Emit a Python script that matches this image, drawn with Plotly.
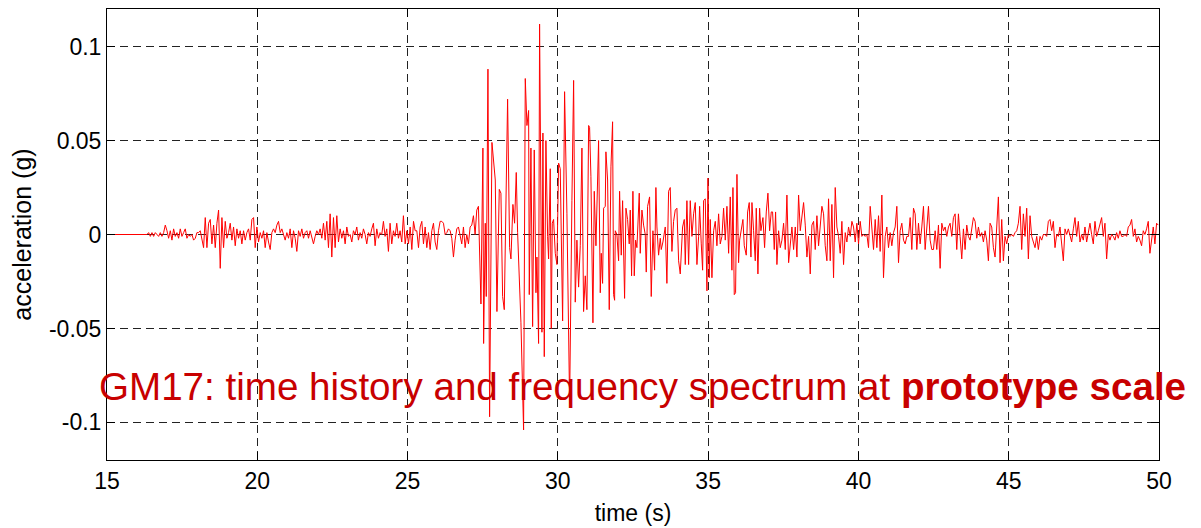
import plotly.graph_objects as go

# ---------------- data (acceleration in milli-g) ----------------
dt = 0.0554  # sampling step of the uniformly sampled segments (s)

lead_t = [15.0]
lead_mg = [0]

seg1_t0 = 16.33
seg1_mg = [0, 1, -1, 1, -1, 1, 0, -1, 1, -1, 1,
           5, 2, -2, 2, -3, 3, -1, 1, -2, 3, -1, 1, 3, -2, 0, -1, 0, -3, -2, 1,
           1, 2, -2, -7, 9, -7, 6, 8, -5, 5, -7, 6, 13, -18, 9, -7, 7, -2, 1, 6,
           -3, 4, -6, 3, -2, 2, -5, 2, -3, 1, 3, -3, 8, 9, -7, 4, -4, 1, -2, 2,
           -7, 1, -4, -8, 1, 3, 1, 5, 7, 1, 3, 0, -3, 1, -2, 3, -7, 2, -2, -9,
           2, -1, 3, -2, 1, 2, -2, 2, -1, -5, -1, 2, 0, 3, -2, 6, -3, 7, -7, 11,
           -12, 9, -7, 10, -4, 3, -2, 2, -5, 4, -1, 0, -4, 2, 0, 4, -3, 1, -2, 3,
           0, -5, 1, -1, 3, 6, -6, 3, -2, 1, 0, 7, -1, 3, -9, 6, -5, 2, -1, 6,
           -2, 2, -4, 10]

seg2_t0 = 24.92
seg2_mg = [-5, 2, -5, 4, -8, 7, 2, 2, -7, 4, 7, -5, 4, -7, 1, -8, 2, 6, -4, -8,
           2, 7, 7, 6, 0, 1, 3, 2, -2, -12, -3, 3, 4, -1, -5, 4, -7, 0, -5, 4,
           5, 10, 0, 13, 15]

strong_t = [27.441, 27.507, 27.530, 27.585, 27.618, 27.674, 27.729, 27.807, 27.918, 27.973,
            28.051, 28.106, 28.162, 28.217, 28.328, 28.395, 28.439, 28.505, 28.561, 28.616,
            28.661, 28.727, 28.772, 28.860, 28.916, 28.971, 29.027, 29.049, 29.104, 29.160,
            29.215, 29.271, 29.304, 29.359, 29.392,
            29.470, 29.503, 29.548, 29.603, 29.659, 29.692, 29.747, 29.781, 29.814, 29.858,
            29.914, 29.969, 30.025, 30.080, 30.158, 30.224, 30.302, 30.391, 30.468, 30.524,
            30.579, 30.634, 30.690, 30.745, 30.801, 30.856, 30.912, 30.967, 31.023, 31.056,
            31.100, 31.167, 31.211, 31.267,
            31.355, 31.411, 31.444, 31.488, 31.522, 31.577, 31.599, 31.655, 31.710, 31.766,
            31.821, 31.854, 31.888, 31.910, 31.965,
            32.021, 32.054, 32.109, 32.154, 32.220, 32.265, 32.320, 32.375, 32.409, 32.453,
            32.497, 32.542, 32.586, 32.630, 32.675, 32.708, 32.741, 32.797, 32.852, 32.908,
            32.941, 32.985,
            33.052, 33.107, 33.163, 33.218, 33.262, 33.296, 33.351, 33.407, 33.440, 33.495,
            33.573, 33.628, 33.684, 33.739, 33.795, 33.850, 33.906, 33.961,
            34.017, 34.072,
            34.150, 34.206, 34.239, 34.294, 34.350, 34.405, 34.461, 34.516, 34.572, 34.627,
            34.683, 34.716, 34.771, 34.816, 34.849, 34.904, 34.960, 34.993,
            35.037, 35.071, 35.126, 35.182, 35.237, 35.292, 35.348, 35.403, 35.459, 35.514,
            35.570, 35.625, 35.681, 35.736, 35.791, 35.825, 35.869, 35.913, 35.958,
            36.013, 36.047, 36.102, 36.157, 36.202, 36.268, 36.313, 36.368, 36.424, 36.457,
            36.512, 36.568, 36.601, 36.656, 36.712, 36.756, 36.823, 36.878, 36.934, 36.989,
            37.045, 37.100, 37.144, 37.200, 37.244, 37.288, 37.344, 37.399, 37.455, 37.510,
            37.566, 37.621, 37.677, 37.732, 37.787, 37.843, 37.898, 37.954,
            38.009, 38.065]
strong_mg = [-37, 46, -58, 6, -33, 88, -97, 49, 29, -41,
             24, 22, -33, -40, 72, -7, -13, 16, 6, 33,
             1, -28, -47, -104, 83, 58, 66, -32, 46, -49,
             45, -31, -12, -58, 112,
             -52, 54, -65, 50, -1, -13, 35, -50, 6, 8,
             -10, -16, 38, 35, -46, 76, 11, -90, 18, 82,
             -36, -3, -28, -6, 46, -41, -22, -40, 58, 57,
             31, -47, 23, -6,
             50, -31, -10, -26, 14, 15, 44, 29, -40, 36,
             60, -32, -35, 2, 0,
             -14, 23, -11, 18, -34, 14, 8, -5, 13, -22,
             23, -22, -3, -7, 14, 22, -10, 13, 5, 0,
             -20, 15,
             20, -33, 2, -19, 25, 4, -11, -2, -8, -4,
             4, -26, 23, 25, -9, 7, 13, 14,
             -14, -21,
             4, 8, -16, 18, -16, 18, -1, 11, 17, -16,
             -1, 15, -5, -19, 18, 19, -30, 30,
             -23, 8, -23, 2, 7, -6, 11, -5, -1, 14,
             -3, 15, -10, 20, -19, 25, -32, -31, 32,
             -15, -3, 4, 8, -6, -11, 12, 17, -12, 17,
             2, -14, 14, -21, 14, 2, 9, -7, 12, 22,
             2, 12, 12, -8, 12, -16, 2, -7, -3, 6,
             -8, 21, -15, -3, 4, -8, 4, -12,
             21, 2]

seg3_t0 = 38.12
seg3_mg = [10, 17, 5, -12, -1, -21, 5, 7, -8, 10,
           -6, 4, 15, 11, -6, -14, 19, -14, 16, -23,
           25, 4, -1, -10, 7, -16, 1, -4, 4, -1,
           7, 4, -4, 6, -5, 7, -1, 0, -1, 0,
           -7, 15, 2, -8, 8, -7, 10, -9, 21, -23,
           -1, 4, -7, 1, -6, 1, 4, 15, -15, 2,
           6, -3, -5, -1, -1, 9, -8, 14, 11, -8,
           6, -5, 4, 15, -8, 2, 15, -3, -8, -8,
           2, -8, 5, -18, 6, 2, 4, -1, 4]

seg4_t0 = 43.05
seg4_mg = [6, -1, 9, 11, -8, 11, -1, -13, 3, -8,
           5, -1, -3, 2, 9, 7, -2, 4, -1, 1,
           -4, 2, -3, -14, 6, 4, -7, -12, 7, 20,
           -15, 8, -14, -1, -5, 0, -1, 0, -1, 1,
           2, 6, 15, -8, 11, -1, 14, -13, 10, -1,
           -4, -7, -1, -8, -1, -3, 0, 0, -1, 7,
           8, 2, 7, -7, 0, -1, 4, -4, -14, 3,
           0, 3, -1, -4, 3, 9, -1, 7, -4, 0,
           -3, 4, -4, 1, 6, 0, -5, 7, -1, 2,
           6, 9, -1, 6, -13, 0, -3, 0, -1, -3,
           1, -2, 2, -1, -1, 0, -1, 4, 5, 8,
           -1, 3, -4, -1, -3, -6, 2, 0, 3, 7,
           -10, -1, 4, -5, 6, 5]

x_ticks = [15, 20, 25, 30, 35, 40, 45, 50]
y_ticks = [-0.1, -0.05, 0, 0.05, 0.1]
y_tick_text = ["-0.1", "-0.05", "0", "0.05", "0.1"]

# ---------------- assemble series ----------------
time_s = list(lead_t)
acc_g = [v / 1000 for v in lead_mg]
for t0, vals in ((seg1_t0, seg1_mg), (seg2_t0, seg2_mg)):
    time_s += [t0 + i * dt for i in range(len(vals))]
    acc_g += [v / 1000 for v in vals]
time_s += strong_t
acc_g += [v / 1000 for v in strong_mg]
for t0, vals in ((seg3_t0, seg3_mg), (seg4_t0, seg4_mg)):
    time_s += [t0 + i * dt for i in range(len(vals))]
    acc_g += [v / 1000 for v in vals]

fig = go.Figure(go.Scatter(x=time_s, y=acc_g, mode="lines",
                           line=dict(color="#ff0000", width=1), hoverinfo="skip"))

axis_common = dict(
    ticks="inside", ticklen=8, tickcolor="black", tickwidth=1,
    showline=True, linecolor="black", linewidth=1, mirror="allticks",
    showgrid=True, gridcolor="#222222", gridwidth=1, griddash="8px,5px",
    zeroline=False, tickfont=dict(size=23, color="black"),
)

fig.update_xaxes(range=[15, 50], tickvals=x_ticks, ticktext=[str(v) for v in x_ticks],
                 title=dict(text="time (s)", font=dict(size=23), standoff=12), **axis_common)
fig.update_yaxes(range=[-0.12, 0.12], tickvals=y_ticks, ticktext=y_tick_text,
                 title=dict(text="acceleration (g)", font=dict(size=25), standoff=12), **axis_common)

fig.add_annotation(
    text="GM17: time history and frequency spectrum at <b>prototype scale</b>",
    xref="paper", yref="paper", x=-0.0085, y=0.163, xanchor="left", yanchor="middle",
    showarrow=False, borderpad=0,
    font=dict(family="Comic Sans MS, Liberation Sans, Arial, sans-serif", size=38.6, color="#c80000"),
)

# page body has an 8px margin: figure is sized/offset so the plot area lands where the reference has it
fig.update_layout(
    width=1193, height=520,
    margin=dict(l=99, r=42, t=1, b=68, autoexpand=False),
    paper_bgcolor="white", plot_bgcolor="white", showlegend=False,
    font=dict(family="Liberation Sans, Arial, sans-serif", color="black"),
)

fig.write_html("out.html")
